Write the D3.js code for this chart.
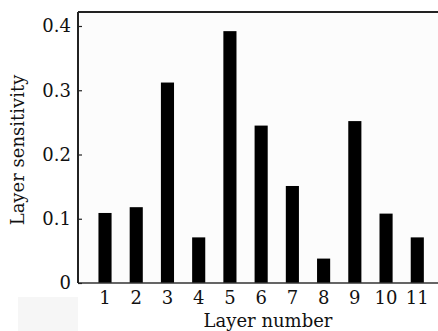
<!DOCTYPE html>
<html>
<head>
<meta charset="utf-8">
<script src="https://cdn.jsdelivr.net/npm/d3@7"></script>
<style>
  body { margin: 0; background: #fff; }
  svg { display: block; }
  text { font-family: "DejaVu Serif", serif; fill: #111; }
</style>
</head>
<body>
<div id="chart"></div>
<script>
const layers = ['1', '2', '3', '4', '5', '6', '7', '8', '9', '10', '11'];
const sensitivity = [0.109, 0.118, 0.312, 0.071, 0.392, 0.245, 0.151, 0.038, 0.252, 0.108, 0.071];
const yTicks = [0, 0.1, 0.2, 0.3, 0.4];

const W = 438, H = 331;
const plotLeft = 78, plotTop = 12, plotBottom = 283;

const svg = d3.select('#chart').append('svg')
  .attr('width', W)
  .attr('height', H);

// faint patch under the y axis origin, as in the scan
svg.append('rect')
  .attr('x', 18).attr('y', 297).attr('width', 60).attr('height', 34)
  .attr('fill', '#f6f6f6');

svg.append('rect')
  .attr('x', plotLeft).attr('y', plotTop).attr('width', W - plotLeft + 2).attr('height', plotBottom - plotTop)
  .attr('fill', '#fcfcfc');

const x = d3.scaleBand()
  .domain(layers)
  .range([89.4, 432.9])
  .paddingInner(0.58)
  .paddingOuter(0.29);

const y = d3.scaleLinear()
  .domain([0, 0.4])
  .range([plotBottom, 26]);

svg.selectAll('.bar')
  .data(layers)
  .enter()
  .append('rect')
  .attr('class', 'bar')
  .attr('x', d => x(d))
  .attr('y', (d, i) => y(sensitivity[i]))
  .attr('width', x.bandwidth())
  .attr('height', (d, i) => plotBottom - y(sensitivity[i]))
  .attr('fill', '#000');

// frame lines
svg.append('line')
  .attr('x1', plotLeft).attr('x2', W).attr('y1', plotTop).attr('y2', plotTop)
  .attr('stroke', '#222').attr('stroke-width', 2);
svg.append('line')
  .attr('x1', plotLeft).attr('x2', W).attr('y1', plotBottom).attr('y2', plotBottom)
  .attr('stroke', '#333').attr('stroke-width', 1.5);

const yAxis = svg.append('g')
  .attr('transform', `translate(${plotLeft},0)`)
  .call(d3.axisRight(y).tickValues(yTicks).tickSize(4).tickFormat(d => d === 0 ? '0' : d3.format('.1f')(d)));
yAxis.select('.domain').attr('stroke', '#222').attr('stroke-width', 2)
  .attr('d', `M0,${plotTop}V${plotBottom}`);
yAxis.selectAll('.tick line').attr('stroke', '#222').attr('stroke-width', 1.2);
yAxis.selectAll('.tick text')
  .attr('x', -7)
  .attr('text-anchor', 'end')
  .attr('font-size', 18)
  .attr('font-family', '"DejaVu Serif", serif')
  .attr('fill', '#111');

const xAxis = svg.append('g')
  .attr('transform', `translate(0,${plotBottom})`)
  .call(d3.axisBottom(x).tickSize(0).tickPadding(8));
xAxis.select('.domain').remove();
xAxis.selectAll('.tick text')
  .attr('font-size', 18)
  .attr('font-family', '"DejaVu Serif", serif')
  .attr('fill', '#111');

svg.append('text')
  .attr('x', 268)
  .attr('y', 327)
  .attr('text-anchor', 'middle')
  .attr('font-size', 18)
  .text('Layer number');

svg.append('text')
  .attr('transform', 'translate(24,150) rotate(-90)')
  .attr('text-anchor', 'middle')
  .attr('font-size', 18)
  .text('Layer sensitivity');
</script>
</body>
</html>
